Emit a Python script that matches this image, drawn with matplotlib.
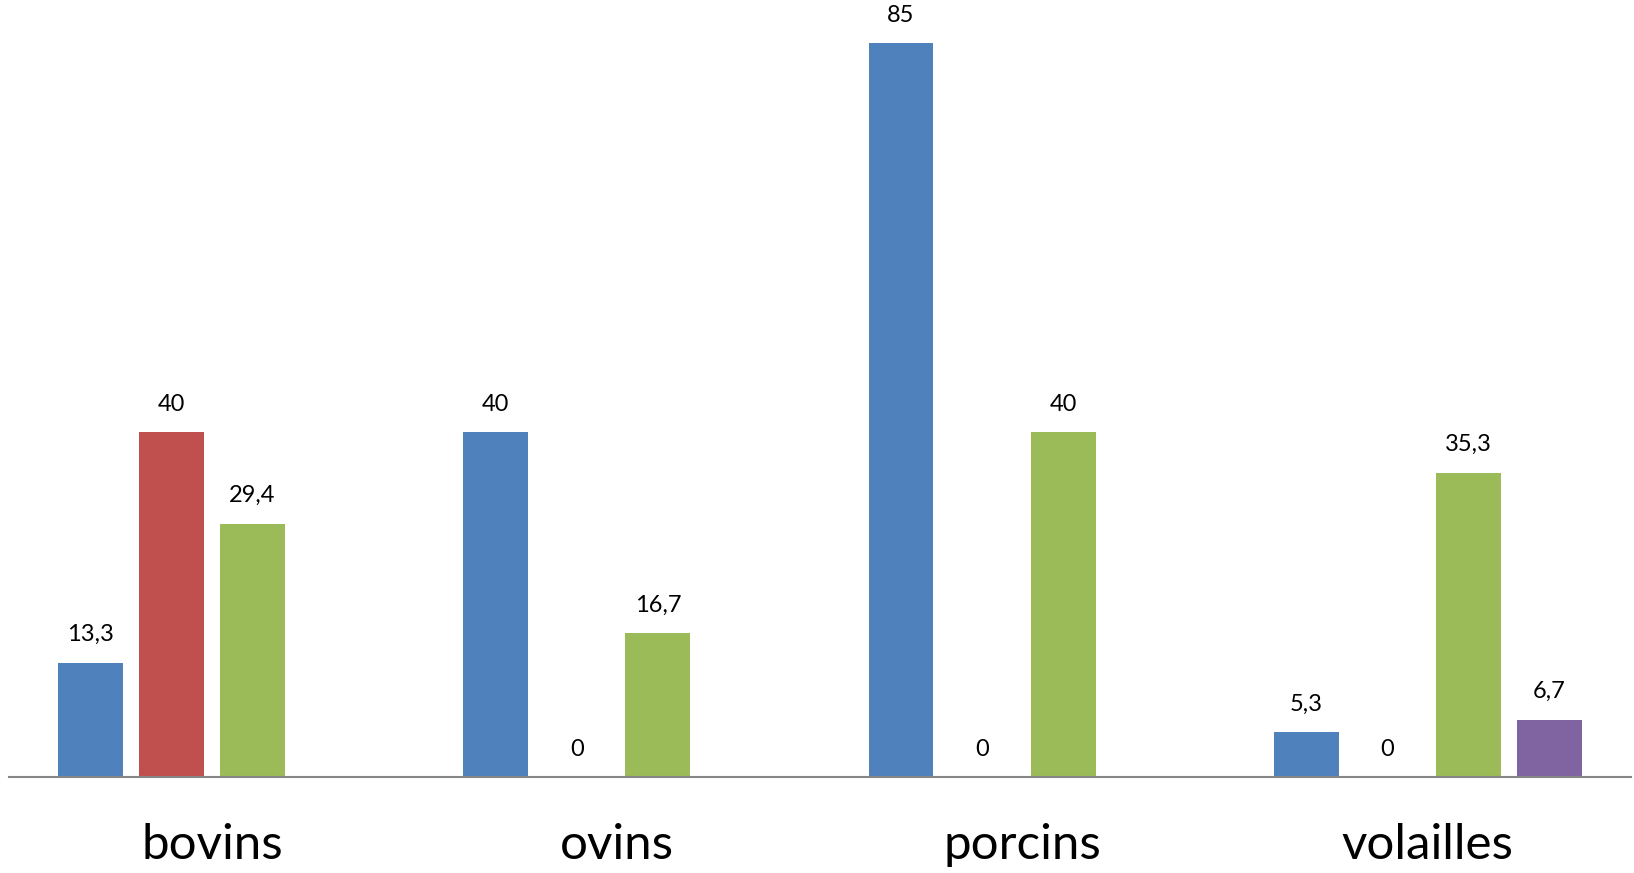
import numpy as np
import matplotlib.pyplot as plt

plt.rcParams['font.family'] = ['Lato', 'DejaVu Sans']

categories = ['bovins', 'ovins', 'porcins', 'volailles']
# four series per category; None = no bar at all in that slot
serie_1 = [13.3, 40, 85, 5.3]
serie_2 = [40, 0, 0, 0]
serie_3 = [29.4, 16.7, 40, 35.3]
serie_4 = [None, None, None, 6.7]
series = [serie_1, serie_2, serie_3, serie_4]
colors = ['#4F81BD', '#C0504D', '#9BBB59', '#8064A2']

fig = plt.figure(figsize=(16.34, 8.73), dpi=100)
ax = fig.add_axes([0.00575, 0.1094, 0.99211, 0.8906])

x = np.arange(len(categories))
pitch = 0.2
width = 0.16
for i, (vals, col) in enumerate(zip(series, colors)):
    off = (i - 1.5) * pitch
    for xi, v in zip(x, vals):
        if v is None:
            continue
        ax.bar(xi + off, v, width=width, color=col)
        txt = f'{v:g}'.replace('.', ',')
        ax.annotate(txt, (xi + off, v), xytext=(0, 12.5), textcoords='offset points',
                    ha='center', va='bottom', fontsize=17)

ax.set_xlim(-0.5, len(categories) - 0.5)
ax.set_ylim(0, 90)
ax.set_xticks(x)
ax.set_xticklabels(categories, fontsize=35.5)
ax.tick_params(axis='x', length=0, pad=33)
ax.set_yticks([])
for s in ['top', 'right', 'left']:
    ax.spines[s].set_visible(False)
ax.spines['bottom'].set_color('#868686')
ax.spines['bottom'].set_linewidth(1.5)

fig.savefig('out.png', dpi=100)
